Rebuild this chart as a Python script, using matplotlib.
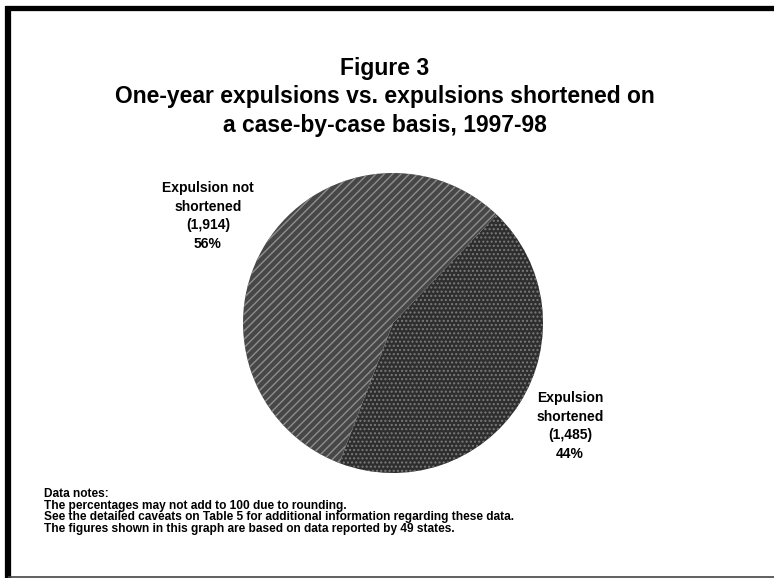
import matplotlib.pyplot as plt
from matplotlib.lines import Line2D

plt.rcParams['font.family'] = ['Liberation Sans', 'DejaVu Sans']

labels = ['Expulsion\nshortened\n(1,485)\n44%', 'Expulsion not\nshortened\n(1,914)\n56%']
counts = [1485, 1914]
faces = ['#2e2e2e', '#474747']
hatches = ['....', '////']
hatch_cols = ['#7a7a7a', '#8e8e8e']

title = 'Figure 3\nOne-year expulsions vs. expulsions shortened on\na case-by-case basis, 1997-98'
notes = ['Data notes:',
         'The percentages may not add to 100 due to rounding.',
         'See the detailed caveats on Table 5 for additional information regarding these data.',
         'The figures shown in this graph are based on data reported by 49 states.']

W, H = 774, 581
fig = plt.figure(figsize=(W / 100, H / 100), dpi=100)

# page frame: heavy top and left edges, thin bottom edge
fig.lines.append(Line2D([5 / W, 1], [1 - 7.5 / H] * 2, transform=fig.transFigure, color='black',
                        lw=3.8, solid_capstyle='butt'))
fig.lines.append(Line2D([8 / W] * 2, [1 - 5.5 / H, 1 - 578 / H], transform=fig.transFigure, color='black',
                        lw=4.5, solid_capstyle='butt'))
fig.lines.append(Line2D([8 / W, 1], [1 - 577 / H] * 2, transform=fig.transFigure, color='#444444',
                        lw=1.2, solid_capstyle='butt'))

fig.text(0.497, 1 - 97 / H, title, ha='center', va='center', fontsize=16.5,
         fontweight='bold', linespacing=1.3)

# pie area: centre ~ (393, 323), radius ~150 px
ax = fig.add_axes([(393 - 150) / W, 1 - (323 + 150) / H, 300 / W, 300 / H])
wedges, _ = ax.pie(counts, startangle=-111, counterclock=True,
                   wedgeprops=dict(linewidth=0))
for w, fc, h, hc in zip(wedges, faces, hatches, hatch_cols):
    w.set_facecolor(fc)
    w.set_hatch(h)
    w.set_edgecolor(hc)
ax.set_xlim(-1, 1)
ax.set_ylim(-1, 1)
ax.set_aspect('equal')
ax.axis('off')

fig.text(208 / W, 1 - 216 / H, labels[1], ha='center', va='center', fontsize=10,
         fontweight='bold', linespacing=1.45)
fig.text(570 / W, 1 - 426 / H, labels[0], ha='center', va='center', fontsize=10,
         fontweight='bold', linespacing=1.45)

for i, line in enumerate(notes):
    fig.text(44 / W, 1 - (494 + i * 11.7) / H, line, ha='left', va='center',
             fontsize=8.6, fontweight='bold')

fig.savefig('out.png', dpi=100)
